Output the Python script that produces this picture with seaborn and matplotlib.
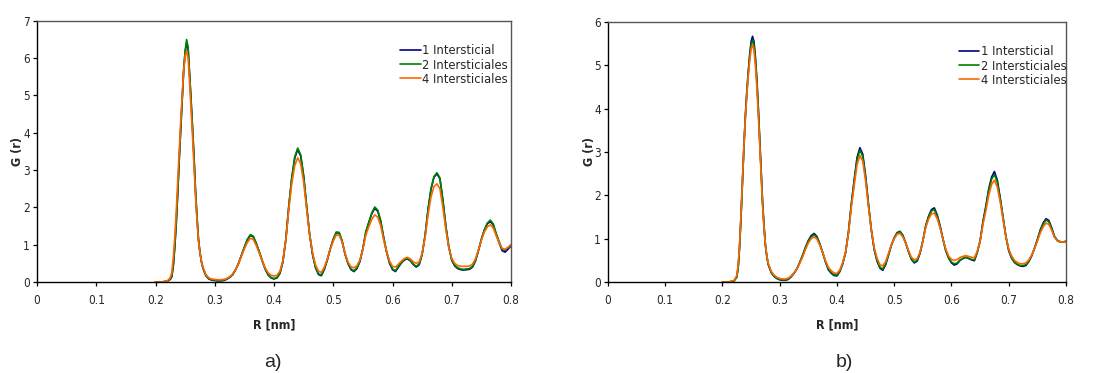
import matplotlib
matplotlib.use("Agg")
import matplotlib.pyplot as plt
from matplotlib import font_manager
from matplotlib.font_manager import FontProperties
import pandas as pd
import seaborn as sns

# Radial distance grid (nm); finer spacing across the first coordination peak
R = [0.200, 0.210, 0.220,
     0.225, 0.2275, 0.230, 0.2325, 0.235, 0.2375, 0.240, 0.2425, 0.245, 0.2475,
     0.250, 0.2525, 0.255, 0.2575, 0.260, 0.2625, 0.265, 0.2675, 0.270, 0.2725,
     0.275, 0.2775, 0.280,
     0.285, 0.290, 0.295, 0.300, 0.305, 0.310, 0.315, 0.320, 0.325, 0.330,
     0.335, 0.340, 0.345, 0.350, 0.355, 0.360, 0.365, 0.370, 0.375, 0.380,
     0.385, 0.390, 0.395, 0.400, 0.405, 0.410, 0.415, 0.420, 0.425, 0.430,
     0.435, 0.440, 0.445, 0.450, 0.455, 0.460, 0.465, 0.470, 0.475, 0.480,
     0.485, 0.490, 0.495, 0.500, 0.505, 0.510, 0.515, 0.520, 0.525, 0.530,
     0.535, 0.540, 0.545, 0.550, 0.555, 0.560, 0.565, 0.570, 0.575, 0.580,
     0.585, 0.590, 0.595, 0.600, 0.605, 0.610, 0.615, 0.620, 0.625, 0.630,
     0.635, 0.640, 0.645, 0.650, 0.655, 0.660, 0.665, 0.670, 0.675, 0.680,
     0.685, 0.690, 0.695, 0.700, 0.705, 0.710, 0.715, 0.720, 0.725, 0.730,
     0.735, 0.740, 0.745, 0.750, 0.755, 0.760, 0.765, 0.770, 0.775, 0.780,
     0.785, 0.790, 0.795, 0.800]

series_names = ["1 Intersticial", "2 Intersticiales", "4 Intersticiales"]
series_colors = ["#000080", "#008000", "#FF6600"]

# Panel a)
g_a_1 = [0.00, 0.00, 0.02,
         0.07, 0.14, 0.42, 0.92, 1.57, 2.37, 3.27, 4.07, 4.87, 5.65,
         6.15, 6.42, 6.25, 5.57, 4.88, 4.13, 3.33, 2.44, 1.74, 1.14,
         0.79, 0.54, 0.37,
         0.17, 0.08, 0.05, 0.04, 0.03, 0.03, 0.04, 0.07, 0.12, 0.19,
         0.32, 0.49, 0.71, 0.93, 1.13, 1.25, 1.21, 1.03, 0.81, 0.57,
         0.35, 0.19, 0.11, 0.08, 0.11, 0.23, 0.54, 1.14, 2.03, 2.78,
         3.32, 3.55, 3.38, 2.83, 2.03, 1.29, 0.74, 0.39, 0.20, 0.17,
         0.34, 0.59, 0.89, 1.14, 1.32, 1.31, 1.09, 0.74, 0.49, 0.33,
         0.28, 0.36, 0.55, 0.89, 1.34, 1.59, 1.83, 1.97, 1.90, 1.63,
         1.19, 0.80, 0.50, 0.33, 0.28, 0.40, 0.51, 0.59, 0.62, 0.57,
         0.47, 0.40, 0.46, 0.74, 1.24, 1.94, 2.49, 2.81, 2.90, 2.77,
         2.19, 1.49, 0.94, 0.58, 0.43, 0.36, 0.33, 0.32, 0.33, 0.34,
         0.40, 0.56, 0.84, 1.14, 1.39, 1.56, 1.62, 1.53, 1.28, 1.05,
         0.84, 0.80, 0.88, 0.97]

g_a_2 = [0.00, 0.00, 0.02,
         0.08, 0.15, 0.45, 0.95, 1.60, 2.40, 3.30, 4.10, 4.90, 5.70,
         6.20, 6.50, 6.30, 5.60, 4.90, 4.15, 3.35, 2.45, 1.75, 1.15,
         0.80, 0.55, 0.38,
         0.18, 0.09, 0.06, 0.05, 0.04, 0.04, 0.05, 0.08, 0.13, 0.20,
         0.33, 0.50, 0.72, 0.94, 1.14, 1.27, 1.23, 1.04, 0.82, 0.58,
         0.36, 0.20, 0.12, 0.09, 0.12, 0.24, 0.55, 1.15, 2.05, 2.80,
         3.35, 3.59, 3.41, 2.86, 2.05, 1.30, 0.75, 0.40, 0.22, 0.19,
         0.36, 0.60, 0.90, 1.15, 1.34, 1.33, 1.10, 0.75, 0.50, 0.35,
         0.30, 0.38, 0.56, 0.90, 1.35, 1.60, 1.85, 2.01, 1.93, 1.65,
         1.20, 0.82, 0.52, 0.35, 0.30, 0.42, 0.52, 0.60, 0.63, 0.58,
         0.48, 0.42, 0.48, 0.75, 1.25, 1.95, 2.50, 2.83, 2.93, 2.79,
         2.20, 1.50, 0.95, 0.60, 0.45, 0.38, 0.35, 0.34, 0.35, 0.36,
         0.42, 0.58, 0.85, 1.15, 1.40, 1.58, 1.66, 1.56, 1.30, 1.08,
         0.88, 0.85, 0.92, 1.00]

g_a_4 = [0.00, 0.00, 0.03,
         0.12, 0.25, 0.65, 1.20, 1.90, 2.70, 3.55, 4.30, 5.00, 5.65,
         6.05, 6.20, 6.00, 5.35, 4.65, 3.90, 3.10, 2.30, 1.65, 1.10,
         0.78, 0.55, 0.40,
         0.20, 0.11, 0.08, 0.07, 0.06, 0.06, 0.07, 0.09, 0.14, 0.21,
         0.33, 0.49, 0.69, 0.89, 1.06, 1.17, 1.14, 0.98, 0.78, 0.57,
         0.38, 0.25, 0.18, 0.16, 0.18, 0.29, 0.58, 1.13, 1.95, 2.64,
         3.12, 3.33, 3.17, 2.68, 1.96, 1.28, 0.79, 0.46, 0.29, 0.26,
         0.40, 0.62, 0.88, 1.10, 1.26, 1.25, 1.06, 0.76, 0.53, 0.41,
         0.38, 0.44, 0.59, 0.88, 1.26, 1.48, 1.68, 1.80, 1.74, 1.51,
         1.13, 0.81, 0.56, 0.42, 0.40, 0.48, 0.56, 0.63, 0.66, 0.62,
         0.54, 0.50, 0.54, 0.77, 1.19, 1.80, 2.28, 2.56, 2.63, 2.50,
         2.00, 1.40, 0.92, 0.63, 0.50, 0.44, 0.42, 0.42, 0.42, 0.43,
         0.48, 0.62, 0.86, 1.12, 1.34, 1.48, 1.53, 1.45, 1.24, 1.05,
         0.90, 0.88, 0.93, 1.00]

# Panel b)
g_b_1 = [0.00, 0.00, 0.02,
         0.12, 0.35, 0.85, 1.55, 2.35, 3.15, 3.85, 4.40, 4.85, 5.25,
         5.55, 5.67, 5.55, 5.20, 4.70, 4.05, 3.30, 2.55, 1.85, 1.30,
         0.85, 0.58, 0.40,
         0.22, 0.13, 0.08, 0.05, 0.04, 0.04, 0.06, 0.12, 0.20, 0.30,
         0.45, 0.62, 0.80, 0.96, 1.07, 1.12, 1.05, 0.88, 0.68, 0.46,
         0.28, 0.20, 0.15, 0.14, 0.24, 0.42, 0.68, 1.15, 1.80, 2.35,
         2.87, 3.10, 2.95, 2.45, 1.80, 1.20, 0.75, 0.48, 0.32, 0.27,
         0.40, 0.62, 0.85, 1.02, 1.14, 1.17, 1.08, 0.90, 0.70, 0.52,
         0.44, 0.48, 0.66, 0.95, 1.30, 1.52, 1.67, 1.71, 1.55, 1.30,
         1.00, 0.72, 0.55, 0.44, 0.39, 0.42, 0.50, 0.54, 0.57, 0.54,
         0.51, 0.49, 0.68, 0.95, 1.40, 1.75, 2.15, 2.42, 2.55, 2.35,
         1.95, 1.50, 1.05, 0.72, 0.55, 0.45, 0.40, 0.37, 0.36, 0.38,
         0.47, 0.60, 0.78, 0.98, 1.20, 1.36, 1.46, 1.42, 1.25, 1.05,
         0.96, 0.93, 0.92, 0.94]

g_b_2 = [0.00, 0.00, 0.02,
         0.11, 0.33, 0.82, 1.52, 2.32, 3.12, 3.80, 4.35, 4.80, 5.18,
         5.47, 5.58, 5.47, 5.13, 4.64, 4.00, 3.27, 2.53, 1.84, 1.30,
         0.86, 0.59, 0.41,
         0.23, 0.14, 0.09, 0.06, 0.05, 0.05, 0.07, 0.13, 0.21, 0.31,
         0.45, 0.61, 0.79, 0.94, 1.04, 1.09, 1.03, 0.87, 0.68, 0.47,
         0.30, 0.22, 0.17, 0.16, 0.25, 0.43, 0.68, 1.13, 1.77, 2.31,
         2.82, 3.04, 2.90, 2.41, 1.78, 1.20, 0.76, 0.50, 0.34, 0.30,
         0.42, 0.63, 0.85, 1.01, 1.13, 1.16, 1.07, 0.90, 0.70, 0.53,
         0.46, 0.50, 0.67, 0.95, 1.29, 1.50, 1.64, 1.67, 1.52, 1.28,
         0.99, 0.73, 0.56, 0.46, 0.42, 0.44, 0.51, 0.55, 0.57, 0.55,
         0.52, 0.51, 0.69, 0.95, 1.38, 1.72, 2.11, 2.37, 2.48, 2.30,
         1.92, 1.48, 1.05, 0.73, 0.56, 0.46, 0.41, 0.38, 0.38, 0.40,
         0.48, 0.61, 0.78, 0.97, 1.18, 1.33, 1.43, 1.39, 1.23, 1.04,
         0.95, 0.92, 0.92, 0.94]

g_b_4 = [0.00, 0.00, 0.03,
         0.15, 0.40, 0.90, 1.60, 2.38, 3.15, 3.80, 4.32, 4.75, 5.10,
         5.38, 5.47, 5.35, 5.00, 4.50, 3.88, 3.17, 2.45, 1.78, 1.25,
         0.85, 0.59, 0.43,
         0.25, 0.16, 0.11, 0.08, 0.07, 0.07, 0.09, 0.14, 0.21, 0.30,
         0.43, 0.58, 0.75, 0.90, 1.00, 1.04, 0.99, 0.85, 0.68, 0.49,
         0.34, 0.26, 0.21, 0.20, 0.28, 0.45, 0.69, 1.12, 1.72, 2.22,
         2.70, 2.92, 2.79, 2.33, 1.74, 1.20, 0.79, 0.55, 0.40, 0.37,
         0.47, 0.66, 0.86, 1.00, 1.10, 1.12, 1.04, 0.90, 0.72, 0.57,
         0.51, 0.54, 0.69, 0.95, 1.26, 1.45, 1.57, 1.59, 1.46, 1.25,
         0.99, 0.76, 0.60, 0.52, 0.50, 0.52, 0.57, 0.59, 0.61, 0.59,
         0.57, 0.56, 0.71, 0.94, 1.33, 1.64, 2.00, 2.25, 2.35, 2.19,
         1.85, 1.45, 1.05, 0.76, 0.60, 0.50, 0.45, 0.42, 0.42, 0.44,
         0.51, 0.62, 0.77, 0.94, 1.13, 1.27, 1.36, 1.33, 1.19, 1.03,
         0.95, 0.93, 0.92, 0.94]

x_ticks = [0, 0.1, 0.2, 0.3, 0.4, 0.5, 0.6, 0.7, 0.8]
panels = [
    {"tag": "a)", "values": [g_a_1, g_a_2, g_a_4], "ymax": 7},
    {"tag": "b)", "values": [g_b_1, g_b_2, g_b_4], "ymax": 6},
]

sns.set_style("white")
plt.rcParams["font.family"] = ["Liberation Sans", "DejaVu Sans"]


def condensed_font(bold=False):
    """Return FontProperties for a narrow sans face if one is installed."""
    want = "bold" if bold else "normal"
    ranked = []
    for f in font_manager.fontManager.ttflist:
        is_bold = f.weight in ("bold", 700, 600, "semibold", "demibold")
        if is_bold != bold or f.style != "normal":
            continue
        narrow = ("Narrow" in f.name or "Condensed" in f.name
                  or "Condensed" in f.fname or "Narrow" in f.fname
                  or f.stretch in ("condensed", "semi-condensed"))
        if not narrow:
            continue
        score = 0 if "Liberation" in f.name else (1 if "DejaVu" in f.name else 2)
        ranked.append((score, f.fname))
    if ranked:
        ranked.sort()
        return FontProperties(fname=ranked[0][1])
    return FontProperties(family=["Liberation Sans", "DejaVu Sans"], weight=want)


reg_font = condensed_font(False)
bold_font = condensed_font(True)
tick_size = 8.5

fig = plt.figure(figsize=(11.08, 3.73), dpi=100)
axes_rects = [[0.0334, 0.244, 0.4278, 0.700], [0.5487, 0.244, 0.4134, 0.697]]
tag_x = [0.2465, 0.7625]
ylabel_x = [-0.027, -0.026]

for rect, panel, tx, ylx in zip(axes_rects, panels, tag_x, ylabel_x):
    ax = fig.add_axes(rect)
    frames = []
    for name, vals in zip(series_names, panel["values"]):
        frames.append(pd.DataFrame({"R": R, "G": vals, "serie": name}))
    df = pd.concat(frames, ignore_index=True)
    sns.lineplot(data=df, x="R", y="G", hue="serie", hue_order=series_names,
                 palette=series_colors, linewidth=1.2, ax=ax, sort=False,
                 estimator=None)
    ax.set_xlim(0, 0.8)
    ax.set_ylim(0, panel["ymax"])
    ax.set_xticks(x_ticks)
    ax.set_xticklabels([f"{t:g}" for t in x_ticks])
    ax.set_yticks(range(panel["ymax"] + 1))
    ax.tick_params(axis="both", which="major", direction="out", length=3,
                   width=0.9, color="black", pad=2, bottom=True, left=True)
    ax.tick_params(axis="x", pad=6)
    for lab in ax.get_xticklabels() + ax.get_yticklabels():
        lab.set_fontproperties(reg_font)
        lab.set_fontsize(tick_size)
    for side in ["left", "bottom", "top", "right"]:
        ax.spines[side].set_visible(True)
        ax.spines[side].set_color("black")
        ax.spines[side].set_linewidth(1.0)
    ax.spines["top"].set_color("#555555")
    ax.spines["right"].set_color("#555555")

    xl = ax.set_xlabel("R [nm]")
    xl.set_fontproperties(bold_font)
    xl.set_fontsize(9)
    ax.xaxis.set_label_coords(0.5, -0.14)
    yl = ax.set_ylabel("G (r)")
    yl.set_fontproperties(bold_font)
    yl.set_fontsize(9)
    ax.yaxis.set_label_coords(ylx, 0.5)

    leg_font = reg_font.copy()
    leg_font.set_size(9.3)
    leg = ax.legend(loc="upper left", bbox_to_anchor=(0.766, 0.91),
                    frameon=False, prop=leg_font, handlelength=1.6,
                    handletextpad=0.1, labelspacing=0.1, borderaxespad=0,
                    borderpad=0)
    for line in leg.get_lines():
        line.set_linewidth(1.2)
    fig.text(tx, 0.028, panel["tag"], fontsize=14, ha="center", va="center",
             family=["Liberation Sans", "DejaVu Sans"])

fig.savefig("out.png", dpi=100)
